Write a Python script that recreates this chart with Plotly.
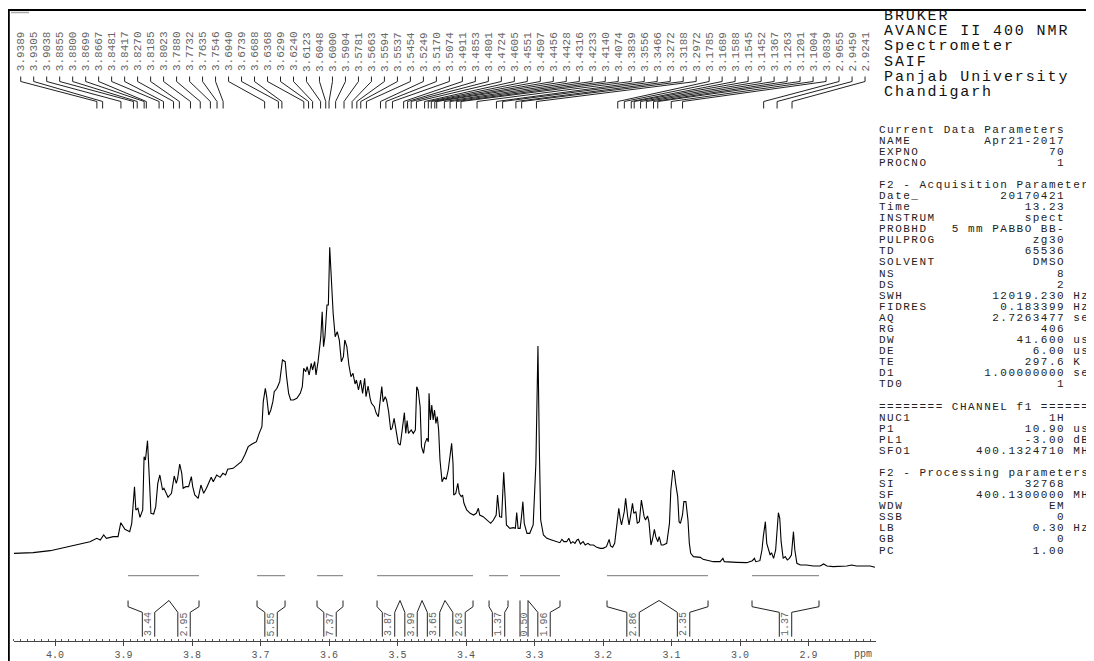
import numpy as np
import plotly.graph_objects as go

# ---------------- data ----------------
ppm = [4.060, 4.032, 4.007, 3.983, 3.959, 3.949, 3.939, 3.934, 3.929, 3.925,
       3.915, 3.908, 3.904, 3.898, 3.891, 3.888, 3.884, 3.882, 3.879, 3.876,
       3.872, 3.870, 3.868, 3.865, 3.862, 3.860, 3.856, 3.853, 3.850, 3.847,
       3.843, 3.841, 3.835, 3.830, 3.826, 3.823, 3.821, 3.818, 3.815, 3.813,
       3.809, 3.805, 3.801, 3.799, 3.796, 3.791, 3.787, 3.783, 3.779, 3.772,
       3.769, 3.764, 3.759, 3.755, 3.751, 3.748, 3.740, 3.732, 3.728, 3.723,
       3.718, 3.713, 3.706, 3.702, 3.698, 3.696, 3.693, 3.691, 3.688, 3.685,
       3.682, 3.680, 3.676, 3.674, 3.672, 3.668, 3.664, 3.662, 3.659, 3.656,
       3.652, 3.647, 3.642, 3.639, 3.637, 3.634, 3.632, 3.629, 3.626, 3.624,
       3.621, 3.619, 3.616, 3.612, 3.610, 3.608, 3.606, 3.603, 3.601, 3.599,
       3.596, 3.594, 3.591, 3.588, 3.585, 3.582, 3.579, 3.577, 3.574, 3.571,
       3.568, 3.565, 3.562, 3.560, 3.557, 3.554, 3.551, 3.548, 3.546, 3.543,
       3.540, 3.538, 3.534, 3.531, 3.528, 3.526, 3.523, 3.521, 3.518, 3.516,
       3.513, 3.510, 3.508, 3.505, 3.502, 3.499, 3.496, 3.492, 3.490, 3.488,
       3.486, 3.484, 3.480, 3.477, 3.474, 3.472, 3.470, 3.467, 3.465, 3.462,
       3.460, 3.457, 3.455, 3.454, 3.452, 3.450, 3.448, 3.446, 3.444, 3.442,
       3.440, 3.438, 3.435, 3.432, 3.429, 3.426,
       3.421, 3.419, 3.418, 3.415, 3.412, 3.410, 3.407, 3.405, 3.403, 3.399,
       3.394, 3.389, 3.385, 3.382, 3.380, 3.375, 3.370, 3.364, 3.360, 3.356,
       3.354, 3.351, 3.348, 3.346, 3.345, 3.343, 3.341, 3.336, 3.331, 3.328,
       3.326, 3.324, 3.321, 3.319, 3.317, 3.315, 3.311, 3.307, 3.302, 3.298,
       3.295, 3.293, 3.291, 3.287, 3.282, 3.275, 3.268, 3.263, 3.260, 3.257,
       3.253, 3.250, 3.247, 3.244, 3.241, 3.238, 3.236, 3.233, 3.229, 3.226,
       3.222, 3.219, 3.214, 3.209, 3.204, 3.200, 3.195, 3.191, 3.189, 3.186,
       3.183, 3.180, 3.177, 3.175, 3.173, 3.169, 3.167, 3.164, 3.162, 3.160,
       3.157, 3.155, 3.152, 3.150, 3.147, 3.144, 3.142, 3.140, 3.138, 3.135,
       3.133, 3.130, 3.128, 3.125, 3.123, 3.120, 3.118, 3.115, 3.112, 3.107,
       3.103, 3.101, 3.098, 3.096, 3.094, 3.091, 3.089, 3.087, 3.084, 3.082,
       3.079, 3.076, 3.074, 3.072, 3.068, 3.063, 3.058, 3.054, 3.049, 3.039,
       3.029, 3.025, 3.023, 3.015, 3.005, 2.990, 2.982, 2.979, 2.977, 2.971,
       2.968, 2.966, 2.963, 2.961, 2.958, 2.956, 2.954, 2.951, 2.948, 2.946,
       2.944, 2.942, 2.940, 2.937, 2.934, 2.931, 2.928, 2.925, 2.922, 2.920,
       2.917, 2.912, 2.903, 2.893, 2.883, 2.878, 2.873, 2.864, 2.854, 2.844,
       2.837, 2.830, 2.820, 2.810, 2.803]

intensity = [50, 52, 58, 70, 80, 85, 95, 90, 105, 95,
             100, 100, 142, 122, 115, 140, 250, 180, 185, 158,
             180, 340, 330, 388, 260, 170, 168, 190, 260, 285,
             240, 245, 218, 230, 282, 260, 275, 318, 290, 245,
             250, 250, 280, 250, 225, 215, 255, 230, 245, 278,
             265, 285, 278, 290, 285, 302, 305, 317, 325, 345,
             370, 377, 385, 410, 430, 505, 545, 520, 465, 480,
             505, 535, 545, 555, 565, 630, 625, 580, 530, 510,
             510, 515, 530, 550, 605, 595, 610, 585, 620, 600,
             625, 585, 625, 700, 775, 670, 700, 795, 795, 968,
             840, 770, 700, 715, 690, 625, 640, 690, 670, 615,
             580, 590, 558, 570, 540, 570, 530, 575, 520, 552,
             515, 500, 490, 470, 460, 490, 550, 505, 520, 510,
             475, 420, 425, 455, 410, 380, 375, 430, 472, 410,
             448, 410, 420, 410, 420, 550, 540, 490, 370, 350,
             380, 395, 385, 530, 450, 495, 450, 480, 440, 460,
             420, 330, 265, 278, 272, 300,
             380, 320, 225, 230, 260, 230, 220, 225, 200, 180,
             170, 165, 170, 185, 165, 160, 150, 140, 150, 165,
             225, 160, 158, 230, 293, 220, 135, 125, 127, 125,
             172, 125, 125, 160, 205, 140, 110, 110, 135, 320,
             672, 370, 150, 105, 95, 90, 85, 82, 92, 85,
             85, 95, 80, 85, 80, 90, 92, 78, 85, 75,
             80, 75, 75, 68, 65, 65, 70, 92, 72, 68,
             80, 140, 185, 155, 135, 175, 215, 160, 135, 160,
             200, 170, 175, 140, 145, 210, 185, 160, 150, 162,
             145, 75, 90, 122, 100, 85, 100, 75, 75, 80,
             140, 240, 300, 295, 260, 220, 145, 140, 165, 205,
             205, 150, 80, 50, 40, 40, 38, 32, 30, 25,
             25, 35, 25, 25, 23, 22, 28, 35, 25, 28,
             60, 100, 145, 80, 55, 45, 52, 35, 60, 130,
             172, 155, 85, 35, 40, 30, 35, 45, 115, 60,
             20, 15, 15, 12, 12, 18, 12, 10, 10, 12,
             15, 12, 12, 12, 8]

peak_labels = [3.9389, 3.9305, 3.9038, 3.8855, 3.8800, 3.8699, 3.8667, 3.8481, 3.8417, 3.8270,
               3.8185, 3.8023, 3.7880, 3.7732, 3.7635, 3.7546, 3.6940, 3.6739, 3.6688, 3.6368,
               3.6299, 3.6240, 3.6123, 3.6048, 3.6000, 3.5904, 3.5781, 3.5663, 3.5594, 3.5537,
               3.5454, 3.5249, 3.5170, 3.5074, 3.4911, 3.4853, 3.4801, 3.4724, 3.4605, 3.4551,
               3.4507, 3.4456, 3.4428, 3.4316, 3.4233, 3.4140, 3.4074, 3.3839, 3.3556, 3.3466,
               3.3272, 3.3188, 3.2972, 3.1785, 3.1689, 3.1588, 3.1545, 3.1452, 3.1367, 3.1263,
               3.1201, 3.1004, 3.0839, 2.9655, 2.9459, 2.9241]

integral_start = [3.8934, 3.8336, 3.7051, 3.6175, 3.5299, 3.4964, 3.4642, 3.4307,
                  3.3664, 3.3212, 3.3095, 3.1942, 3.1182, 2.9825]
integral_end = [3.8336, 3.7898, 3.6642, 3.5796, 3.4964, 3.4642, 3.4307, 3.3898,
                3.3387, 3.3095, 3.2628, 3.1182, 3.0467, 2.8847]
integral_values = [3.44, 2.95, 5.55, 7.37, 3.87, 3.99, 3.65, 2.63,
                   1.37, 0.50, 1.96, 2.86, 2.35, 1.37]

header_lines = ["BRUKER", "AVANCE II 400 NMR", "Spectrometer", "SAIF",
                "Panjab University", "Chandigarh"]

param_names = ["Current Data Parameters", "NAME", "EXPNO", "PROCNO", "",
               "F2 - Acquisition Parameters", "Date_", "Time", "INSTRUM", "PROBHD",
               "PULPROG", "TD", "SOLVENT", "NS", "DS", "SWH", "FIDRES", "AQ", "RG",
               "DW", "DE", "TE", "D1", "TD0", "",
               "======== CHANNEL f1 ========", "NUC1", "P1", "PL1", "SFO1", "",
               "F2 - Processing parameters", "SI", "SF", "WDW", "SSB", "LB", "GB", "PC"]
param_values = ["", "Apr21-2017", "70", "1", "",
                "", "20170421", "13.23", "spect", "5 mm PABBO BB-",
                "zg30", "65536", "DMSO", "8", "2", "12019.230", "0.183399", "2.7263477", "406",
                "41.600", "6.00", "297.6", "1.00000000", "1", "",
                "", "1H", "10.90", "-3.00", "400.1324710", "",
                "", "32768", "400.1300000", "EM", "0", "0.30", "0", "1.00"]
param_units = ["", "", "", "", "",
               "", "", "", "", "",
               "", "", "", "", "", "Hz", "Hz", "sec", "",
               "usec", "usec", "K", "sec", "", "",
               "", "", "usec", "dB", "MHz", "",
               "", "", "MHz", "", "", "Hz", "", ""]

# ---------------- layout constants ----------------
# the page body has an 8 px margin: the figure is sized/offset to fill the window
OFF = 8
WIN_W, WIN_H = 1094, 661
W, H = WIN_W - OFF, WIN_H - OFF
FONT = "Liberation Mono"
X_L_PX, X_R_PX = 14, 876          # window pixels of the ppm axis ends
PPM_L, PPM_R = 4.0599, 2.8015
AXIS_Y_PX = 641
PX_PER_PPM = (X_R_PX - X_L_PX) / (PPM_L - PPM_R)


def px_x(px):
    return (px - OFF) / W


def px_y(py):
    return 1 - (py - OFF) / H


def spaced(t, ls):
    t = t.replace(" ", "\u00a0")
    return f'<span style="letter-spacing:{ls}px">{t}</span>'


fig = go.Figure()

# spectrum
fig.add_trace(go.Scatter(x=ppm, y=intensity, mode="lines",
                         line=dict(color="black", width=1.1),
                         hoverinfo="skip", xaxis="x", yaxis="y"))

# peak-label connectors
n = len(peak_labels)
lab_x = np.linspace(4.0501, 2.8175, n)
cx, cy = [], []
for lx, p in zip(lab_x, peak_labels):
    cx += [lx, lx, p, p, None]
    cy += [76.5, 81.5, 101.5, 108.5, None]
fig.add_trace(go.Scatter(x=cx, y=cy, mode="lines", line=dict(color="#222", width=1),
                         hoverinfo="skip", xaxis="x", yaxis="y2"))

annotations = []
for lx, p in zip(lab_x, peak_labels):
    annotations.append(dict(x=lx, y=51.5, xref="x", yref="y2", text=f"{p:.4f}",
                            textangle=-90, showarrow=False, xanchor="center", yanchor="middle",
                            font=dict(family=FONT, size=11, color="#666")))

# integrals
hw_max = 6.2 / PX_PER_PPM
ix, iy, bx, by = [], [], [], []
for k, (a, b, v) in enumerate(zip(integral_start, integral_end, integral_values)):
    ix += [a, b, None]
    iy += [575.7, 575.7, None]
    c = (a + b) / 2
    hw = min(hw_max, (a - b) / 2)
    shared_l = k > 0 and abs(integral_end[k - 1] - a) < 1e-6
    shared_r = k < len(integral_start) - 1 and abs(integral_start[k + 1] - b) < 1e-6
    if shared_l:
        bx += [a, c + hw, c + hw, None]
        by += [600.5, 612.3, 636.7, None]
    else:
        bx += [a, a, c + hw, c + hw, None]
        by += [600.5, 606.7, 612.3, 636.7, None]
    if shared_r:
        bx += [b, c - hw, c - hw, None]
        by += [600.5, 612.3, 636.7, None]
    else:
        bx += [b, b, c - hw, c - hw, None]
        by += [600.5, 606.7, 612.3, 636.7, None]
    annotations.append(dict(x=c, y=624.5, xref="x", yref="y2", text=f"{v:.2f}",
                            textangle=-90, showarrow=False, xanchor="center", yanchor="middle",
                            font=dict(family=FONT, size=10, color="#666")))

fig.add_trace(go.Scatter(x=ix, y=iy, mode="lines", line=dict(color="#777", width=1),
                         hoverinfo="skip", xaxis="x", yaxis="y2"))
fig.add_trace(go.Scatter(x=bx, y=by, mode="lines", line=dict(color="#222", width=1),
                         hoverinfo="skip", xaxis="x", yaxis="y2"))

# ppm label
annotations.append(dict(x=2.8204, y=654, xref="x", yref="y2", text="ppm", showarrow=False,
                        xanchor="center", yanchor="middle",
                        font=dict(family=FONT, size=10, color="#555")))

# header text
for i, t in enumerate(header_lines):
    annotations.append(dict(x=px_x(882), y=16.3 + i * 15.3, xref="paper", yref="y2",
                            text=spaced(t, 1.9), showarrow=False,
                            xanchor="left", yanchor="middle",
                            font=dict(family=FONT, size=15, color="#111")))

# parameter table
for i, (nm, val, un) in enumerate(zip(param_names, param_values, param_units)):
    if not nm:
        continue
    line = nm
    if val:
        line = nm + val.rjust(23 - len(nm))
        if un:
            line += " " + un
    annotations.append(dict(x=px_x(876.5), y=129.5 + i * 11.08, xref="paper", yref="y2",
                            text=spaced(line, 1.49), showarrow=False,
                            xanchor="left", yanchor="middle",
                            font=dict(family=FONT, size=11, color="#222")))

shapes = [
    dict(type="line", xref="paper", yref="paper", x0=px_x(8.8), x1=px_x(8.8),
         y0=0, y1=px_y(9), line=dict(color="black", width=2)),
    dict(type="line", xref="paper", yref="paper", x0=px_x(8), x1=1,
         y0=px_y(10), y1=px_y(10), line=dict(color="black", width=2)),
    dict(type="line", xref="paper", yref="paper", x0=px_x(11), x1=px_x(29),
         y0=px_y(12.5), y1=px_y(12.5), line=dict(color="#aaa", width=1.5)),
]

fig.update_layout(
    width=W, height=H, margin=dict(l=0, r=0, t=0, b=0),
    paper_bgcolor="white", plot_bgcolor="white", showlegend=False,
    font=dict(family=FONT),
    xaxis=dict(domain=[px_x(X_L_PX), px_x(X_R_PX)], range=[PPM_L, PPM_R],
               anchor="free", position=px_y(AXIS_Y_PX),
               showline=True, linecolor="#444", linewidth=1,
               ticks="outside", ticklen=4, tickcolor="#444", tickwidth=1,
               tick0=0, dtick=0.1, tickformat=".1f",
               tickfont=dict(family=FONT, size=10, color="#555"),
               showgrid=False, zeroline=False, fixedrange=True,
               minor=dict(dtick=0.01, ticks="inside", ticklen=2, tickcolor="#555",
                          tickwidth=1, showgrid=False)),
    yaxis=dict(domain=[0, 1], range=[-273, 3 * (570 - OFF)], visible=False, fixedrange=True),
    yaxis2=dict(overlaying="y", range=[WIN_H, OFF], visible=False, fixedrange=True),
    annotations=annotations,
    shapes=shapes,
)

fig.write_html("out.html")
